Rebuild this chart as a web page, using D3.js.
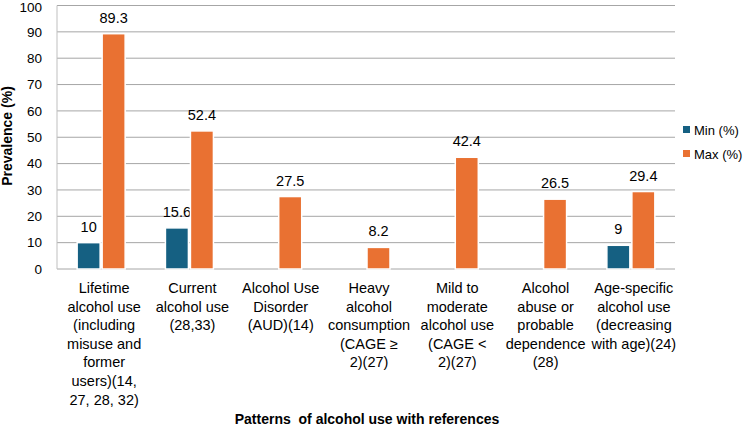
<!DOCTYPE html>
<html><head><meta charset="utf-8">
<script src="https://cdn.jsdelivr.net/npm/d3@7"></script>
<style>
html,body{margin:0;padding:0;background:#fff;}
svg text{font-family:"Liberation Sans",Arial,sans-serif;fill:#000;}
</style></head>
<body><svg id="c" width="744" height="427"></svg>
<script>
const categories = [
  ["Lifetime","alcohol use","(including","misuse and","former","users)(14,","27, 28, 32)"],
  ["Current","alcohol use","(28,33)"],
  ["Alcohol Use","Disorder","(AUD)(14)"],
  ["Heavy","alcohol","consumption","(CAGE \u2265","2)(27)"],
  ["Mild to","moderate","alcohol use","(CAGE <","2)(27)"],
  ["Alcohol","abuse or","probable","dependence","(28)"],
  ["Age-specific","alcohol use","(decreasing","with age)(24)"]
];
const minValues = [10, 15.6, null, null, null, null, 9];
const maxValues = [89.3, 52.4, 27.5, 8.2, 42.4, 26.5, 29.4];
const seriesNames = ["Min (%)", "Max (%)"];
const yTicks = [0,10,20,30,40,50,60,70,80,90,100];
const colors = ["#156082", "#E97132"];

(function(){
const svg = d3.select("#c");
const pL = 57, pR = 675, pT = 5.5, pB = 269;
const x = d3.scaleBand().domain(d3.range(categories.length)).range([pL, pR]).paddingInner(0).paddingOuter(0);
const y = d3.scaleLinear().domain([0, 100]).range([pB, pT]);
const barW = 23, gap = 1;

svg.append("g").selectAll("line").data(yTicks).join("line")
  .attr("x1", pL).attr("x2", pR)
  .attr("y1", d => y(d)).attr("y2", d => y(d))
  .attr("stroke", "#a6a6a6").attr("stroke-width", 1);
svg.append("line").attr("x1", pL).attr("x2", pL).attr("y1", y(100)).attr("y2", y(0))
  .attr("stroke", "#bfbfbf").attr("stroke-width", 1);

const yAxis = d3.axisLeft(y).tickValues(yTicks).tickSize(0).tickPadding(15);
const ga = svg.append("g").attr("transform", `translate(${pL},0)`).call(yAxis);
ga.select(".domain").remove();
ga.selectAll("text").attr("font-size", 13.5).attr("font-family", "Liberation Sans, Arial, sans-serif").attr("fill", "#000")
  .attr("dy", d => d === 100 ? "0.42em" : "0.32em");

const series = [minValues, maxValues];
series.forEach((vals, si) => {
  const g = svg.append("g");
  const data = vals.map((v, i) => ({v, i})).filter(d => d.v != null);
  g.selectAll("rect").data(data).join("rect")
    .attr("x", d => {
      const c = x(d.i) + x.bandwidth() / 2;
      return si === 0 ? c - gap - barW : c + gap;
    })
    .attr("width", barW)
    .attr("y", d => y(d.v))
    .attr("height", d => y(0) - y(d.v))
    .attr("fill", colors[si])
    .attr("stroke", "#fff").attr("stroke-width", 1.5);
  g.selectAll("text").data(data).join("text")
    .attr("x", d => {
      const c = x(d.i) + x.bandwidth() / 2;
      return si === 0 ? c - gap - barW / 2 : c + gap + barW / 2;
    })
    .attr("y", d => y(d.v) - 11)
    .attr("text-anchor", "middle").attr("font-size", 14.5)
    .text(d => d.v);
});

const cg = svg.append("g");
categories.forEach((lines, i) => {
  const cx = x(i) + x.bandwidth() / 2 + 3;
  const t = cg.append("text").attr("text-anchor", "middle").attr("font-size", 14.5).attr("x", cx);
  lines.forEach((ln, j) => t.append("tspan").attr("x", cx).attr("y", 293 + j * 18.6).text(ln));
});

svg.append("text").attr("transform", "translate(12,136) rotate(-90)")
  .attr("text-anchor", "middle").attr("font-size", 14).attr("font-weight", "bold")
  .text("Prevalence (%)");
svg.append("text").attr("x", 367).attr("y", 424).attr("text-anchor", "middle")
  .attr("font-size", 14).attr("font-weight", "bold")
  .style("white-space", "pre")
  .text("Patterns  of alcohol use with references");

const lg = svg.append("g");
seriesNames.forEach((n, i) => {
  lg.append("rect").attr("x", 683).attr("y", 130 + i * 24 - 4).attr("width", 7).attr("height", 7).attr("fill", colors[i]);
  lg.append("text").attr("x", 694).attr("y", 130 + i * 24 + 5).attr("font-size", 13).text(n);
});
})();
</script></body></html>
